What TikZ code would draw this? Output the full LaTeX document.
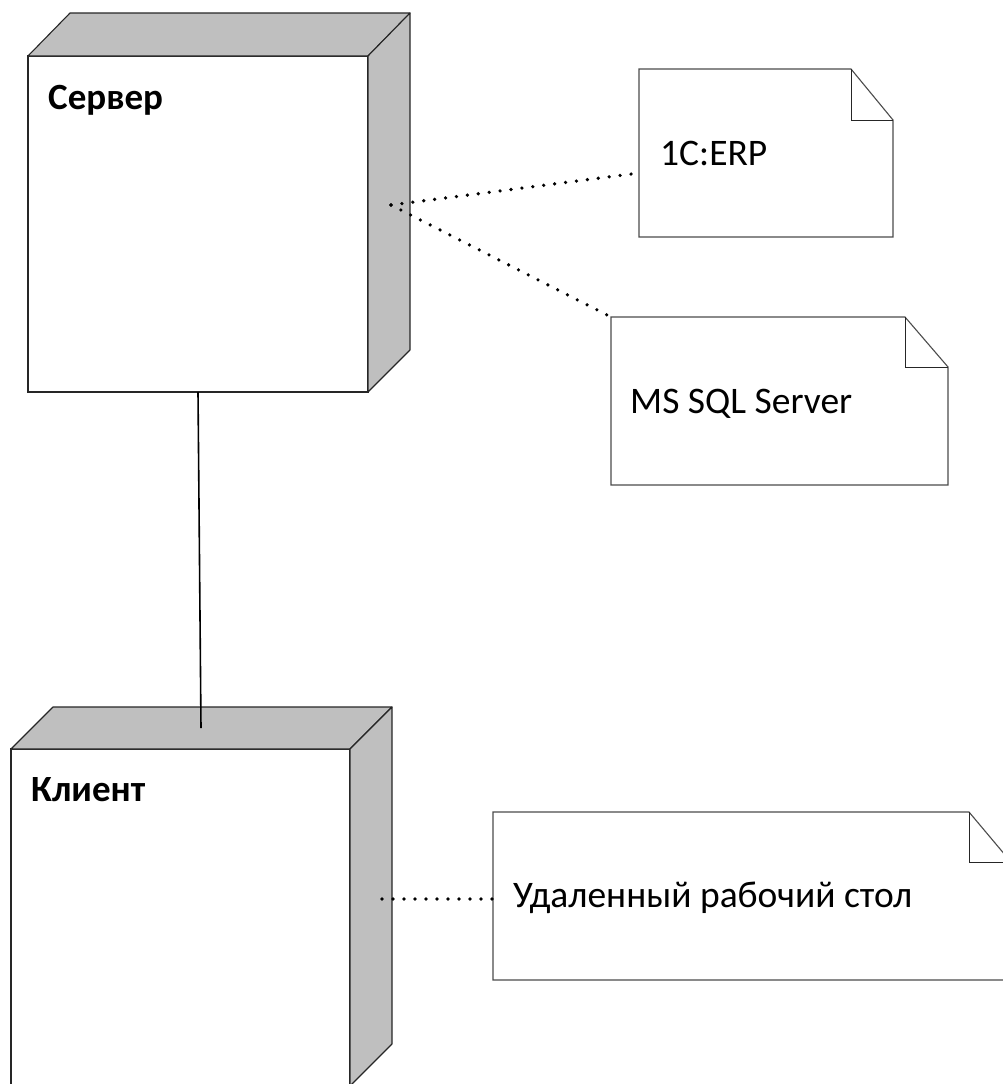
\documentclass[tikz,border=0pt]{standalone}
\usepackage{fontspec}
\setmainfont{Carlito}
\tikzset{
  face/.style={draw=black!85, line width=1.1pt, fill=white, inner sep=0pt, outer sep=0pt, anchor=north west},
  side/.style={draw=black!85, line width=1.1pt, fill=black!25, line join=round},
  notebox/.style={inner sep=0pt, outer sep=0pt, anchor=north west},
  noteline/.style={draw=black!70, line width=1.1pt, fill=white, line join=miter},
  foldline/.style={draw=black!85, line width=1pt},
  nodelabel/.style={anchor=base west, inner sep=0pt, font=\fontsize{37}{42}\selectfont\bfseries},
  notelabel/.style={anchor=base west, inner sep=0pt, font=\fontsize{37.5}{42}\selectfont},
  dotline/.style={line width=3.6pt, line cap=round, dash pattern=on 0pt off 11pt},
  link/.style={line width=1.6pt, draw=black}
}
\begin{document}
\begin{tikzpicture}[x=1pt,y=-1pt]
\useasboundingbox (0,0) rectangle (1003,1084);
\clip (0,0) rectangle (1003,1084);

% Server node
\node[face, minimum width=340pt, minimum height=336pt] (server) at (28,56) {};
\path[side] (server.north west) -- ++(42,-43) -- ++(340,0) -- (server.north east) -- cycle;
\path[side] (server.north east) -- ++(42,-43) -- ++(0,337) -- (server.south east) -- cycle;
\node[nodelabel] (serverlabel) at (48,109) {Сервер};

% Client node
\node[face, minimum width=339pt, minimum height=337pt] (client) at (11,749) {};
\path[side] (client.north west) -- ++(42,-42) -- ++(339,0) -- (client.north east) -- cycle;
\path[side] (client.north east) -- ++(42,-42) -- ++(0,337) -- (client.south east) -- cycle;
\node[nodelabel] (clientlabel) at (31,801) {Клиент};

% Notes
\node[notebox, minimum width=254pt, minimum height=168pt] (erp) at (639,69) {};
\path[noteline] (erp.north west) -- ([xshift=-42pt]erp.north east) -- ([yshift=-51pt]erp.north east) -- (erp.south east) -- (erp.south west) -- cycle;
\draw[foldline] ([xshift=-42pt]erp.north east) |- ([yshift=-51pt]erp.north east);
\node[notelabel] (erptext) at (660,165) {1C:ERP};

\node[notebox, minimum width=337pt, minimum height=168pt] (sql) at (611,317) {};
\path[noteline] (sql.north west) -- ([xshift=-43pt]sql.north east) -- ([yshift=-50pt]sql.north east) -- (sql.south east) -- (sql.south west) -- cycle;
\draw[foldline] ([xshift=-43pt]sql.north east) |- ([yshift=-50pt]sql.north east);
\node[notelabel] (sqltext) at (630,413) {MS SQL Server};

\node[notebox, minimum width=518pt, minimum height=168pt] (rdp) at (493,812) {};
\path[noteline] (rdp.north west) -- ([xshift=-42pt]rdp.north east) -- ([yshift=-50pt]rdp.north east) -- (rdp.south east) -- (rdp.south west) -- cycle;
\draw[foldline] ([xshift=-42pt]rdp.north east) |- ([yshift=-50pt]rdp.north east);
\node[notelabel] (rdptext) at (513,907) {Удаленный рабочий стол};

% Connectors
\coordinate (srvport) at (391,205);
\coordinate (cliport) at (382,899);
\coordinate (clitop) at (201,728);
\draw[dotline] (srvport) -- ([yshift=-104pt]erp.north west);
\draw[dotline] (srvport) -- (sql.north west);
\draw[dotline] (cliport) -- ([yshift=-87pt]rdp.north west);
\draw[link] (server.south) -- (clitop);
\end{tikzpicture}
\end{document}
